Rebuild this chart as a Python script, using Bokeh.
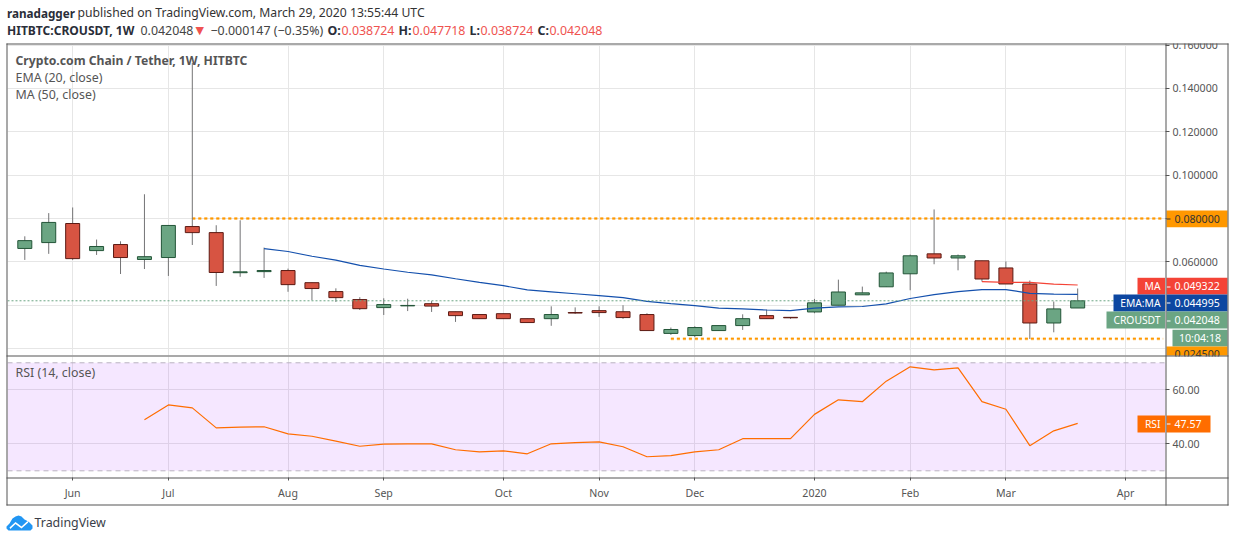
from bokeh.embed import file_html
from bokeh.resources import INLINE
from bokeh.plotting import figure
from bokeh.layouts import column
from bokeh.models import (BoxAnnotation, ColumnDataSource, FixedTicker, Label,
                          NumeralTickFormatter, PolyAnnotation, Span)

# ---- data -----------------------------------------------------------------
week = list(range(45))
open_ = [.0662,.0689,.0777,.0652,.0680,.0611,.0620,.0763,.0735,.0550,.0555,.0560,.0504,.0463,.0426,.0389,
         .0397,.0407,.0370,.0357,.0361,.0338,.0338,.0366,.0375,.0370,.0357,.0270,.0260,.0283,.0306,.0352,.0344,
         .0369,.0400,.0448,.0485,.0545,.0637,.0618,.0605,.0572,.0498,.0318,.038724]
close = [.0698,.0782,.0615,.0671,.0620,.0624,.0768,.0735,.0551,.0554,.0560,.0495,.0477,.0435,.0384,.0403,
         .0399,.0396,.0352,.0338,.0338,.0320,.0357,.0364,.0366,.0343,.0283,.0288,.0297,.0306,.0338,.0338,.0342,
         .0411,.0461,.0457,.0549,.0628,.0618,.0628,.0521,.0498,.0318,.0383,.042048]
high  = [.0718,.0825,.0851,.0703,.0695,.0912,.0768,.1518,.0769,.0792,.0666,.0569,.0504,.0478,.0437,.0432,
         .0430,.0419,.0370,.0357,.0361,.0338,.0395,.0390,.0395,.0400,.0363,.0297,.0303,.0306,.0358,.0380,.0344,
         .0429,.0518,.0486,.0555,.0634,.0842,.0634,.0605,.0602,.0514,.0417,.047718]
low   = [.0609,.0637,.0609,.0632,.0544,.0567,.0535,.0678,.0489,.0531,.0526,.0462,.0423,.0415,.0378,.0355,
         .0373,.0369,.0323,.0338,.0338,.0320,.0305,.0360,.0346,.0337,.0283,.0263,.0253,.0283,.0286,.0338,.0337,
         .0363,.0400,.0448,.0485,.0469,.0589,.0561,.0509,.0498,.0244,.0275,.038724]
ema_week = list(range(10, 45))
ema = [.0661,.0648,.0626,.0608,.0584,.0567,.0552,.0540,.0522,.0505,.0490,.0471,.0462,.0453,.0444,.0435,.0418,
       .0407,.0398,.0387,.0383,.0378,.0375,.0387,.0392,.0394,.0406,.0431,.0449,.0463,.0472,.0472,.0455,.0451,.044995]
ma_week = [40, 41, 42, 43, 44]
ma = [.0509, .0505, .0505, .0497, .049322]
rsi_week = list(range(5, 45))
rsi = [48.9,54.4,53.3,45.9,46.2,46.3,43.7,42.8,41.0,39.1,39.9,40.0,40.0,37.8,37.0,37.4,36.3,40.0,40.4,40.7,38.9,
       35.2,35.6,37.0,37.8,41.9,41.9,41.9,50.9,56.3,55.6,63.2,68.5,67.4,68.1,55.6,52.8,39.3,44.8,47.57]
tick_week = [2, 6, 11, 15, 20, 24, 28, 33, 37, 41, 46]
tick_labels = ["Jun", "Jul", "Aug", "Sep", "Oct", "Nov", "Dec", "2020", "Feb", "Mar", "Apr"]
price_ticks = [.06, .08, .10, .12, .14, .16]
price_grid = [.02, .04, .06, .08, .10, .12, .14, .16]
rsi_ticks = [40, 60]
resistance = 0.08
support = 0.0245
last_close = 0.042048

# ---- styling --------------------------------------------------------------
FONT = "Noto Sans"
GREEN, RED = "#6ba583", "#d75442"
GREEN_D, RED_D = "#225437", "#5b1a13"
WICK = "#737375"
FRAME = "#555555"
GRID = "#e6e6e6"
TXT = "#555555"
AX = "10.6px"
X_RANGE = (-0.723, 47.67)


def base(height, top, bottom, y_range):
    f = figure(width=1234, height=height, frame_width=1158, frame_height=height - top - bottom,
               output_backend="svg", toolbar_location=None, x_range=X_RANGE, y_range=y_range,
               y_axis_location="right", min_border_left=7, min_border_right=69,
               min_border_top=top, min_border_bottom=bottom, outline_line_color=None,
               background_fill_color="white", border_fill_color="white")
    f.xgrid.ticker = FixedTicker(ticks=tick_week)
    f.xgrid.grid_line_color = GRID
    f.ygrid.grid_line_color = GRID
    y = f.yaxis[0]
    y.axis_line_color = None
    y.major_tick_line_color = FRAME
    y.major_tick_out = 4
    y.major_tick_in = 0
    y.minor_tick_line_color = None
    y.major_label_text_color = TXT
    y.major_label_text_font = FONT
    y.major_label_text_font_size = AX
    y.major_label_standoff = 3
    return f


# ---- price pane -----------------------------------------------------------
p = base(356, 44, 1, (0.0168, 0.1603))
p.xaxis.visible = False
p.yaxis[0].ticker = FixedTicker(ticks=price_ticks)
p.yaxis[0].formatter = NumeralTickFormatter(format="0.000000")
p.ygrid.ticker = FixedTicker(ticks=price_grid)

p.line([7, X_RANGE[1] - 0.1], [resistance, resistance], line_color="#ffcc80", line_width=3, line_dash="3 3")
p.line([7, X_RANGE[1] - 0.1], [resistance, resistance], line_color="#ff9800", line_width=1.6, line_dash="3 3")
p.line([27, X_RANGE[1] - 0.1], [support, support], line_color="#ffcc80", line_width=3, line_dash="3 3")
p.line([27, X_RANGE[1] - 0.1], [support, support], line_color="#ff9800", line_width=1.6, line_dash="3 3")
p.add_layout(Span(location=last_close, dimension="width", line_color=GREEN, line_width=1, line_dash="2 2"))

src = ColumnDataSource(dict(
    x=week, o=open_, c=close, h=high, l=low,
    top=[max(a, b) for a, b in zip(open_, close)],
    bot=[min(a, b) for a, b in zip(open_, close)],
    fillc=[GREEN if b >= a else RED for a, b in zip(open_, close)],
    linec=[GREEN_D if b >= a else RED_D for a, b in zip(open_, close)],
))
p.segment("x", "l", "x", "h", source=src, line_color=WICK, line_width=1)
p.vbar("x", width=0.585, top="top", bottom="bot", source=src, fill_color="fillc", line_color="linec", line_width=1)
p.line(ema_week, ema, line_color="#1450ad", line_width=1.2)
p.line(ma_week, ma, line_color="#f44336", line_width=1.2)

# ---- RSI pane -------------------------------------------------------------
r = base(185, 0, 64, (27.52, 72.33))
r.yaxis[0].ticker = FixedTicker(ticks=rsi_ticks)
r.yaxis[0].formatter = NumeralTickFormatter(format="0.00")
r.ygrid.ticker = FixedTicker(ticks=rsi_ticks)
x = r.xaxis[0]
x.ticker = FixedTicker(ticks=tick_week)
x.major_label_overrides = {k: v for k, v in zip(tick_week, tick_labels)}
x.axis_line_color = None
x.major_tick_line_color = FRAME
x.major_tick_out = 3
x.major_tick_in = 0
x.minor_tick_line_color = None
x.major_label_text_color = TXT
x.major_label_text_font = FONT
x.major_label_text_font_size = AX
x.major_label_standoff = 5

r.add_layout(BoxAnnotation(bottom=30, top=70, fill_color="#9915ff", fill_alpha=0.1, line_color=None, level="underlay"))
for lv in (30, 70):
    r.add_layout(Span(location=lv, dimension="width", line_color="#b9b2c0", line_width=1, line_dash="5 4"))
r.line(rsi_week, rsi, line_color="#ff6d00", line_width=1.2)

# ---- transparent page-sized layer: header, legends, price tags, frame, logo -
o = figure(width=1234, height=541, output_backend="svg", toolbar_location=None,
           x_range=(0, 1234), y_range=(541, 0), x_axis_location=None, y_axis_location=None,
           min_border=0, outline_line_color=None, background_fill_color=None, border_fill_color=None)
o.grid.visible = False


def fill(x0, x1, y0, y1, color):
    o.add_layout(BoxAnnotation(left=x0, right=x1, top=y0, bottom=y1, fill_color=color, fill_alpha=1, line_color=None))


def text(x, y, s, color=TXT, size="12.4px", bold=False, align="left", font=FONT):
    o.add_layout(Label(x=x, y=y, text=s, text_color=color, text_font=font, text_font_size=size,
                       text_font_style="bold" if bold else "normal",
                       text_align=align, text_baseline="middle"))


# header
text(6.5, 12, "ranadagger", color="#2a2e39", size="11.7px", bold=True)
text(77, 12, "published on TradingView.com, March 29, 2020 13:55:44 UTC", color="#333333", size="12.2px")
text(6.5, 30, "HITBTC:CROUSDT, 1W", color="#2a2e39", size="12.05px", bold=True)
text(140, 30, "0.042048", color="#444444")
text(195, 30, "▼", color="#ef5350", size="11px", font="DejaVu Sans")
text(210, 30, "−0.000147 (−0.35%)", color="#444444")
for xl, lab, xv, val in [(327, "O:", 341, "0.038724"), (398, "H:", 412, "0.047718"),
                         (469, "L:", 480, "0.038724"), (537, "C:", 549, "0.042048")]:
    text(xl, 30, lab, color="#2a2e39", bold=True)
    text(xv, 30, val, color="#ef5350")

# legends
text(15, 60, "Crypto.com Chain / Tether, 1W, HITBTC", size="12.2px", bold=True)
text(15, 77, "EMA (20, close)")
text(15, 94, "MA (50, close)")
text(15, 372, "RSI (14, close)")

# price tags
fill(1166, 1227, 210, 226.7, "#ff9800")
fill(1166, 1170, 218, 219, "#333333")
text(1174, 218, "0.080000", color="#333333", size=AX)
for x0, y0, y1, col, tag, val in [(1137, 277.3, 294, "#f44336", "MA", "0.049322"),
                                  (1113, 294, 311, "#0d47a1", "EMA:MA", "0.044995"),
                                  (1106, 311, 328, "#6ba583", "CROUSDT", "0.042048")]:
    fill(x0, 1164.5, y0, y1, col)
    fill(1166, 1227, y0, y1, col)
    fill(1166, 1170, round((y0 + y1) / 2), round((y0 + y1) / 2) + 1, "white")
    text(1160, (y0 + y1) / 2, tag, color="white", align="right", size="10.3px")
    text(1174, (y0 + y1) / 2, val, color="white", size=AX)
fill(1172, 1227, 329.3, 346, "#6ba583")
text(1199.5, 337.6, "10:04:18", color="white", align="center", size=AX)
fill(1166, 1227, 346, 355, "#ff9800")
text(1174, 353, "0.024500", color="#333333", size=AX)
fill(1137, 1164.5, 415, 432, "#ff6d00")
fill(1166, 1210, 415, 432, "#ff6d00")
fill(1166, 1170, 423, 424, "white")
text(1160, 423.5, "RSI", color="white", align="right", size="10.3px")
text(1174, 423.5, "47.57", color="white", size=AX)

# clipping of the two cut tags, then frame lines
fill(1166, 1227, 30, 43, "white")
fill(1166, 1227, 356, 362, "white")
fill(6, 7, 43, 505, FRAME)
fill(1165, 1166, 43, 505, FRAME)
fill(1227, 1228, 43, 505, FRAME)
fill(6, 1228, 43, 44, FRAME)
fill(6, 1228, 355, 356, FRAME)
fill(6, 1228, 477, 478, FRAME)
fill(6, 1228, 504, 505, FRAME)

# logo
o.add_layout(PolyAnnotation(xs=[6, 9, 12, 15, 18, 21, 24, 26, 29, 32, 32, 30, 8, 6],
                            ys=[526, 523, 518, 516, 515, 516, 519, 520, 522, 525, 528, 530, 530, 528],
                            fill_color="#2196f3", fill_alpha=1, line_color=None))
o.add_layout(PolyAnnotation(xs=[9, 15, 21, 27, 27.8, 21, 15, 9.8],
                            ys=[527, 521.5, 526, 520.5, 522, 528, 523.5, 528.5],
                            fill_color="white", fill_alpha=1, line_color=None))
text(34, 522, "TradingView", color="#3a3e49", size="12.4px")

ABS = {"position": "absolute", "left": "0px", "top": "0px"}
page = column(p, r, spacing=0, styles=ABS)
o.styles = ABS
open("out.html", "w").write(file_html([page, o], INLINE))
